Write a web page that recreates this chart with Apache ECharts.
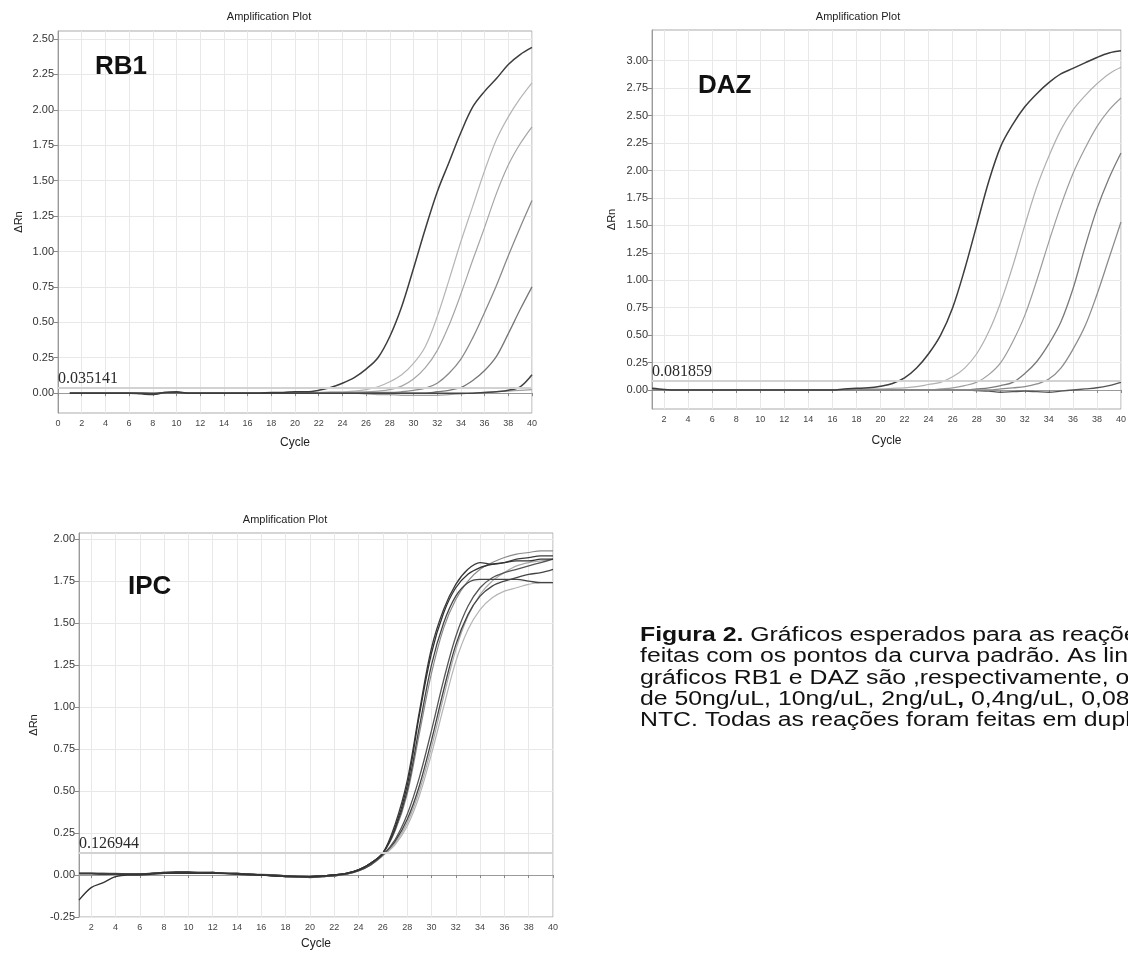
<!DOCTYPE html>
<html>
<head>
<meta charset="utf-8">
<script src="https://cdn.jsdelivr.net/npm/echarts@6.0.0/dist/echarts.min.js"></script>
<style>
  html, body { margin: 0; padding: 0; background: #fff; }
  #main { width: 1128px; height: 953px; }
</style>
</head>
<body>
<div id="main"></div>
<script>
// ciclos e curvas
const cycles = [1,2,3,4,5,6,7,8,9,10,11,12,13,14,15,16,17,18,19,20,21,22,23,24,25,26,27,28,29,30,31,32,33,34,35,36,37,38,39,40]

// RB1
const rb1N50 = [0,0,0,0,0,0,-0.005,-0.01,0.005,0.01, 0,0,0,0,0,0,0,0.005,0.005,0.01, 0.01,0.02,0.04,0.07,0.11,0.17,0.25,0.4,0.61,0.88, 1.16,1.42,1.63,1.84,2.02,2.13,2.22,2.32,2.39,2.44]
const rb1N10 = [0,0,0,0,0,0,0,-0.005,0,0.005, 0,0,0,0,0,0,0,0,0,0.005, 0.005,0.005,0.01,0.01,0.015,0.025,0.045,0.08,0.13,0.21, 0.33,0.54,0.8,1.07,1.32,1.57,1.79,1.95,2.08,2.19]
const rb1N2 = [0,0,0,0,0,0,0,-0.005,0,0.005, 0,0,0,0,0,0,0,0,0,0, 0,0,0.005,0.005,0.01,0.01,0.015,0.025,0.05,0.1, 0.18,0.3,0.48,0.7,0.94,1.17,1.41,1.61,1.76,1.88]
const rb1N04 = [0,0,0,0,0,0,0,0,0,0, 0,0,0,0,0,0,0,0,0,0, 0,0,0,0,0,0.005,0.005,0.005,0.01,0.02, 0.035,0.07,0.14,0.24,0.39,0.57,0.76,0.97,1.17,1.36]
const rb1N008 = [0,0,0,0,0,0,0,0,0,0, 0,0,0,0,0,0,0,0,0,0, 0,0,0,0,0,0,0,0,0,0, 0,0.01,0.02,0.04,0.09,0.16,0.26,0.42,0.59,0.75]
const rb1Ntc = [0,0,0,0,0,0,0,-0.005,0.005,0.005, 0,0,0,0,0,0,0,0,0,0, 0,0,0,0,0,0,0,0,0,0, 0,0,0,0,0,0.005,0.01,0.02,0.045,0.13]
const rb1Ntc2 = [0,0,0,0,0,0,0,0,0,0, 0,0,0,0,0,0,0,0,0,0, 0,0,0,0,0,-0.005,-0.01,-0.01,-0.015,-0.015, -0.015,-0.015,-0.01,-0.005,0,0.005,0.01,0.015,0.02,0.025]

// DAZ
const dazN50 = [0.015,0.005,0,0,0,0,0,0,0,0, 0,0,0,0,0,0,0.01,0.015,0.02,0.035, 0.06,0.11,0.2,0.33,0.5,0.75,1.1,1.5,1.9,2.22, 2.42,2.58,2.7,2.8,2.88,2.93,2.98,3.03,3.07,3.09]
const dazN10 = [0,0,0,0,0,0,0,0,0,0, 0,0,0,0,0,0,0,0.005,0.01,0.01, 0.015,0.02,0.03,0.05,0.07,0.12,0.2,0.33,0.53,0.8, 1.13,1.5,1.85,2.13,2.37,2.55,2.68,2.79,2.88,2.94]
const dazN2 = [0,0,0,0,0,0,0,0,0,0, 0,0,0,0,0,0,0,0,0,0, 0,0,0,0,0.01,0.02,0.04,0.07,0.14,0.25, 0.44,0.68,1.0,1.35,1.68,1.97,2.2,2.4,2.55,2.66]
const dazN04 = [0,0,0,0,0,0,0,0,0,0, 0,0,0,0,0,0,0,0,0,0, 0,0,0,0,0,0,0,0.01,0.02,0.04, 0.07,0.15,0.26,0.42,0.62,0.92,1.3,1.65,1.93,2.16]
const dazN008 = [0,0,0,0,0,0,0,0,0,0, 0,0,0,0,0,0,0,0,0,0, 0,0,0,0,0,0,0,0,0,0.01, 0.02,0.03,0.055,0.1,0.2,0.37,0.58,0.87,1.2,1.53]
const dazNtc = [0,0,0,0,0,0,0,0,0,0, 0,0,0,0,0,0,0,0,0,0, 0,0,0,0,0,0,0,-0.005,-0.01,-0.02, -0.015,-0.01,-0.015,-0.02,-0.01,0,0.01,0.02,0.04,0.07]

// IPC
const ipcA1 = [-0.15,-0.075,-0.045,-0.01,0,0,0.005,0.01,0.01,0.01, 0.01,0.01,0.01,0.005,0,0,-0.005,-0.01,-0.01,-0.01, -0.005,0,0.01,0.03,0.07,0.13,0.28,0.53,0.95,1.32, 1.56,1.71,1.79,1.83,1.85,1.86,1.87,1.87,1.88,1.88]
const ipcA2 = [0.01,0.01,0.005,0.005,0.005,0.005,0.01,0.015,0.015,0.015, 0.01,0.015,0.01,0.01,0.005,0,-0.005,-0.005,-0.01,-0.01, -0.005,0,0.01,0.03,0.07,0.13,0.3,0.56,0.97,1.35, 1.58,1.73,1.82,1.86,1.85,1.86,1.88,1.89,1.9,1.9]
const ipcA3 = [0.01,0.01,0.01,0.005,0.005,0.005,0.01,0.01,0.015,0.015, 0.015,0.015,0.01,0.01,0.005,0,0,-0.005,-0.01,-0.01, -0.005,0,0.01,0.03,0.07,0.13,0.27,0.5,0.88,1.25, 1.5,1.66,1.74,1.76,1.76,1.76,1.76,1.75,1.74,1.74]
const ipcA4 = [0.005,0.005,0.005,0.005,0,0.005,0.005,0.01,0.01,0.01, 0.01,0.01,0.01,0.005,0.005,0,-0.005,-0.01,-0.015,-0.015, -0.01,-0.005,0.005,0.03,0.07,0.13,0.26,0.48,0.84,1.2, 1.47,1.64,1.75,1.82,1.86,1.89,1.91,1.92,1.93,1.93]
const ipcB1 = [0.01,0.01,0.01,0.01,0.005,0.005,0.01,0.015,0.02,0.02, 0.015,0.015,0.01,0.01,0.005,0,0,-0.005,-0.005,-0.01, -0.005,0,0.01,0.03,0.065,0.12,0.21,0.36,0.58,0.86, 1.16,1.42,1.6,1.71,1.77,1.8,1.82,1.84,1.86,1.88]
const ipcB2 = [0.01,0.01,0.005,0.005,0.005,0.005,0.01,0.01,0.015,0.015, 0.01,0.01,0.01,0.005,0.005,0,-0.005,-0.01,-0.01,-0.015, -0.01,-0.005,0.005,0.025,0.06,0.12,0.2,0.33,0.53,0.8, 1.1,1.37,1.55,1.66,1.72,1.75,1.77,1.79,1.8,1.82]
const ipcB3 = [0.005,0.005,0.005,0.005,0.005,0.005,0.01,0.01,0.01,0.015, 0.015,0.01,0.01,0.01,0.005,0.005,0,-0.005,-0.01,-0.01, -0.01,-0.005,0.005,0.025,0.06,0.115,0.19,0.31,0.5,0.76, 1.06,1.34,1.54,1.67,1.75,1.8,1.84,1.86,1.87,1.88]
const ipcB4 = [0.005,0.005,0.005,0,0,0.005,0.005,0.01,0.01,0.01, 0.01,0.01,0.005,0.005,0.005,0,-0.005,-0.01,-0.015,-0.015, -0.01,-0.005,0.005,0.025,0.06,0.115,0.18,0.29,0.47,0.72, 1.0,1.27,1.46,1.58,1.65,1.69,1.71,1.73,1.74,1.74]

// thresholds
const thresholds = [0.035141, 0.081859, 0.126944]
const thresholdLabels = ['0.035141', '0.081859', '0.126944']

// ticks
const rbXTicks = [0,2,4,6,8,10,12,14,16,18,20,22,24,26,28,30,32,34,36,38,40]
const cycTicks = [2,4,6,8,10,12,14,16,18,20,22,24,26,28,30,32,34,36,38,40]
const rbYTicks = [0,0.25,0.5,0.75,1,1.25,1.5,1.75,2,2.25,2.5]
const dazYTicks = [0,0.25,0.5,0.75,1,1.25,1.5,1.75,2,2.25,2.5,2.75,3]
const ipcYTicks = [-0.25,0,0.25,0.5,0.75,1,1.25,1.5,1.75,2]

const FONT = 'Liberation Sans, Arial, sans-serif'

function curve(vals, color, gi, width, extra) {
  return Object.assign({
    type: 'line', xAxisIndex: gi, yAxisIndex: gi,
    data: cycles.map((c, i) => [c, vals[i]]),
    smooth: 0.35, symbol: 'none', silent: true,
    lineStyle: { color: color, width: width || 1.3 }
  }, extra || {})
}

function threshold(gi) {
  return {
    silent: true, symbol: ['none', 'none'],
    lineStyle: { color: '#d2d2d2', width: 2, type: 'solid' },
    label: {
      position: 'insideStartTop', formatter: thresholdLabels[gi],
      fontFamily: 'Liberation Serif, Times New Roman, serif', fontSize: 16,
      color: '#2a2a2a', distance: [0, 1]
    },
    data: [{ yAxis: thresholds[gi] }]
  }
}

function xAx(gi, min, ticks, gap) {
  return {
    type: 'value', gridIndex: gi, min: min, max: 40,
    name: 'Cycle', nameLocation: 'middle', nameGap: gap,
    nameTextStyle: { fontSize: 12, color: '#222', fontFamily: FONT },
    axisLine: { show: true, lineStyle: { color: '#9a9a9a' } },
    axisTick: { show: true, customValues: ticks, length: 3, lineStyle: { color: '#888' } },
    axisLabel: { customValues: ticks, fontSize: 9, color: '#444', margin: 6, fontFamily: FONT },
    splitLine: { show: true, lineStyle: { color: '#e8e8e8' } }
  }
}

function yAx(gi, min, max, ticks, gap) {
  return {
    type: 'value', gridIndex: gi, min: min, max: max,
    name: 'ΔRn', nameLocation: 'middle', nameGap: gap,
    nameTextStyle: { fontSize: 11, color: '#222', fontFamily: FONT },
    axisLine: { show: true, lineStyle: { color: '#9a9a9a' } },
    axisTick: { show: true, customValues: ticks, length: 4, lineStyle: { color: '#888' } },
    axisLabel: { customValues: ticks, formatter: v => v.toFixed(2), fontSize: 11, color: '#333', margin: 4, fontFamily: FONT },
    splitLine: { show: true, lineStyle: { color: '#e8e8e8' } }
  }
}

function plotTitle(x, y) {
  return { type: 'text', z: 100, x: x, y: y, style: { text: 'Amplification Plot', fontSize: 11, fontFamily: FONT, fill: '#222', align: 'center', verticalAlign: 'middle' } }
}

function bigLabel(text, x, y) {
  return { type: 'text', z: 100, x: x, y: y, style: { text: text, fontSize: 26, fontWeight: 'bold', fontFamily: FONT, fill: '#111', verticalAlign: 'middle' } }
}

const gridBase = { show: true, borderColor: '#ababab', borderWidth: 1, backgroundColor: '#fff', containLabel: false, outerBoundsMode: 'none' }

const chart = echarts.init(document.getElementById('main'), null, { renderer: 'canvas' })

chart.setOption({
  animation: false,
  backgroundColor: '#fff',
  grid: [
    Object.assign({ left: 58, top: 31, width: 474, height: 382 }, gridBase),
    Object.assign({ left: 652, top: 30, width: 469, height: 379 }, gridBase),
    Object.assign({ left: 79, top: 533, width: 474, height: 384 }, gridBase)
  ],
  xAxis: [xAx(0, 0, rbXTicks, 24), xAx(1, 1, cycTicks, 26), xAx(2, 1, cycTicks, 21)],
  yAxis: [yAx(0, -0.14, 2.556, rbYTicks, 34), yAx(1, -0.173, 3.28, dazYTicks, 35), yAx(2, -0.25, 2.036, ipcYTicks, 40)],
  series: [
    curve(rb1Ntc2, '#a0a0a0', 0, 1.2, { markLine: threshold(0) }),
    curve(rb1N10, '#b5b5b5', 0, 1.2),
    curve(rb1N2, '#a5a5a5', 0, 1.2),
    curve(rb1N04, '#8a8a8a', 0, 1.3),
    curve(rb1N008, '#777777', 0, 1.3),
    curve(rb1Ntc, '#444444', 0, 1.5),
    curve(rb1N50, '#3d3d3d', 0, 1.5),

    curve(dazNtc, '#555555', 1, 1.4, { markLine: threshold(1) }),
    curve(dazN10, '#b0b0b0', 1, 1.2),
    curve(dazN2, '#9c9c9c', 1, 1.2),
    curve(dazN04, '#7a7a7a', 1, 1.3),
    curve(dazN008, '#8c8c8c', 1, 1.3),
    curve(dazN50, '#3d3d3d', 1, 1.5),

    curve(ipcB4, '#b5b5b5', 2, 1.2, { markLine: threshold(2) }),
    curve(ipcB3, '#aaaaaa', 2, 1.2),
    curve(ipcA4, '#8a8a8a', 2, 1.2),
    curve(ipcB2, '#444444', 2, 1.3),
    curve(ipcB1, '#555555', 2, 1.3),
    curve(ipcA3, '#444444', 2, 1.3),
    curve(ipcA2, '#3a3a3a', 2, 1.3),
    curve(ipcA1, '#333333', 2, 1.3)
  ],
  graphic: [
    plotTitle(269, 17),
    plotTitle(858, 17),
    plotTitle(285, 520),
    bigLabel('RB1', 95, 67),
    bigLabel('DAZ', 698, 86),
    bigLabel('IPC', 128, 587),
    {
      type: 'text', z: 100, x: 640, y: 625, scaleX: 1.24,
      style: {
        text: '{b|Figura 2.} Gráficos esperados para as reações\n' +
              'feitas com os pontos da curva padrão. As linhas dos\n' +
              'gráficos RB1 e DAZ são ,respectivamente, os pontos\n' +
              'de 50ng/uL, 10ng/uL, 2ng/uL{b|,} 0,4ng/uL, 0,08ng/uL e\n' +
              'NTC. Todas as reações foram feitas em duplicata.',
        fontSize: 20, fontFamily: FONT, fill: '#111', lineHeight: 21.3,
        rich: { b: { fontWeight: 'bold', fontSize: 20, fontFamily: FONT, fill: '#111', lineHeight: 21.3 } }
      }
    }
  ]
})
</script>
</body>
</html>
